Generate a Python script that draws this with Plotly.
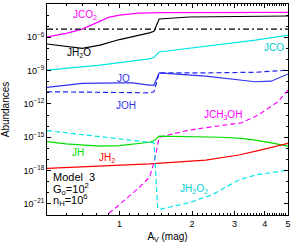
import plotly.graph_objects as go
import numpy as np

# ---- data (x = A_V in mag, y = log10 abundance) ----
x_jco2 = [0.5, 0.6, 0.7, 0.8, 0.9, 1.0, 1.2, 1.5, 5.0]
y_jco2 = [-5.97, -5.65, -5.26, -4.7, -4.2, -4.0, -3.83, -3.78, -3.76]

x_ref = [0.5, 5.0]
y_ref = [-5.27, -5.27]

x_jh2o = [0.5, 0.6, 0.7, 0.83, 1.0, 1.33, 1.39, 1.46, 1.94, 5.0]
y_jh2o = [-6.6, -6.82, -7.0, -6.7, -6.2, -5.6, -5.45, -4.35, -4.17, -4.08]

x_jco = [0.5, 0.83, 1.33, 1.39, 1.46, 2.28, 3.66, 5.0]
y_jco = [-8.95, -8.5, -7.95, -7.8, -7.32, -6.8, -6.25, -5.8]

x_jo = [0.5, 0.7, 1.0, 1.13, 1.33, 1.39, 1.46, 2.28, 3.66, 4.26, 5.0]
y_jo = [-10.5, -10.15, -10.1, -10.1, -10.3, -10.3, -9.2, -9.5, -10.0, -9.95, -9.3]

x_joh = [0.5, 1.0, 1.33, 1.39, 1.46, 2.28, 3.66, 5.0]
y_joh = [-10.9, -10.95, -11.0, -10.9, -9.2, -9.2, -9.15, -8.95]

x_jch3oh = [0.85, 0.97, 1.21, 1.33, 1.39, 1.46, 1.94, 3.2, 3.76, 4.55, 5.0]
y_jch3oh = [-22.3, -21.3, -19.5, -18.6, -17.3, -15.0, -14.35, -13.7, -13.0, -11.8, -10.75]

x_jh = [0.5, 0.6, 0.83, 1.0, 1.33, 1.39, 1.46, 2.0, 2.65, 3.2, 3.66, 4.26, 5.0]
y_jh = [-15.4, -15.6, -15.8, -15.75, -15.45, -15.3, -14.9, -14.95, -15.0, -15.1, -15.25, -15.5, -15.8]

x_jh2 = [0.5, 1.0, 1.33, 2.28, 3.12, 3.76, 5.0]
y_jh2 = [-17.8, -17.55, -17.4, -17.05, -16.6, -16.2, -15.55]

x_jh2o2 = [0.5, 0.83, 1.33, 1.39, 1.44, 1.46, 1.94, 2.41, 3.12, 3.66, 5.0]
y_jh2o2 = [-14.4, -14.95, -15.4, -15.5, -21.4, -21.5, -20.9, -20.2, -18.85, -18.4, -17.95]

y_tick_vals = [1e-21, 1e-18, 1e-15, 1e-12, 1e-9, 1e-6, 1e-3]
y_tick_text = ["10<sup>−21</sup>", "10<sup>−18</sup>", "10<sup>−15</sup>",
               "10<sup>−12</sup>", "10<sup>−9</sup>", "10<sup>−6</sup>", "0.001"]
x_tick_vals = [1, 2, 3, 4, 5]
x_tick_text = ["1", "2", "3", "4", "5"]

FONT = "Liberation Sans"
DASH = "5px,3px"

def pw(v):
    return [10 ** t for t in v]

fig = go.Figure()
series = [
    (x_jco2, y_jco2, "#ff00ff", "solid"),
    (x_ref, y_ref, "#000000", "6px,3px,2px,3px"),
    (x_jh2o, y_jh2o, "#000000", "solid"),
    (x_jco, y_jco, "#00e5e5", "solid"),
    (x_jo, y_jo, "#3333ee", "solid"),
    (x_joh, y_joh, "#2222ee", DASH),
    (x_jch3oh, y_jch3oh, "#ff00ff", DASH),
    (x_jh, y_jh, "#00dd00", "solid"),
    (x_jh2, y_jh2, "#ff0000", "solid"),
    (x_jh2o2, y_jh2o2, "#00e5e5", DASH),
]
for xs, ys, c, d in series:
    fig.add_trace(go.Scatter(x=xs, y=pw(ys), mode="lines",
                             line=dict(color=c, width=1.2, dash=d),
                             showlegend=False, hoverinfo="skip"))

labels = [
    ("JCO<sub>2</sub>", 0.72, -3.95, "#ff00ff"),
    ("JH<sub>2</sub>O", 0.68, -7.45, "#000000"),
    ("JCO", 4.38, -6.96, "#00d0d0"),
    ("JO", 1.04, -9.67, "#3333ee"),
    ("JOH", 1.06, -12.1, "#3333ee"),
    ("JCH<sub>3</sub>OH", 2.68, -12.95, "#ff00ff"),
    ("JH", 0.672, -16.33, "#00dd00"),
    ("JH<sub>2</sub>", 0.89, -16.85, "#ff0000"),
    ("JH<sub>2</sub>O<sub>2</sub>", 2.03, -19.65, "#00d0d0"),
]
for t, xv, yv, c in labels:
    fig.add_annotation(x=np.log10(xv), y=yv, text=t, showarrow=False,
                       font=dict(family=FONT, size=10, color=c))

model_lines = [("Model  3", -18.6), ("G<sub>o</sub>=10<sup>2</sup>", -19.65),
               ("n<sub>H</sub>=10<sup>6</sup>", -20.65)]
for t, yv in model_lines:
    fig.add_annotation(x=np.log10(0.52), y=yv, text=t, showarrow=False,
                       xanchor="left", font=dict(family=FONT, size=11, color="black"))

minor_x = [round(v, 1) for v in np.arange(0.5, 5.01, 0.1) if abs(v - round(v)) > 1e-6]
minor_y = [10.0 ** k for k in range(-22, -2)]

axis_common = dict(showline=True, linecolor="black", linewidth=1, mirror="allticks",
                   ticks="inside", ticklen=4, tickcolor="black", showgrid=False,
                   zeroline=False, automargin=False,
                   tickfont=dict(family=FONT, size=9, color="black"))

fig.update_xaxes(type="log", range=[np.log10(0.5), np.log10(5.0)],
                 tickmode="array", tickvals=x_tick_vals, ticktext=x_tick_text,
                 minor=dict(tickmode="array", tickvals=minor_x, ticks="inside",
                            ticklen=2, tickcolor="black"),
                 title=dict(text="A<sub>V</sub> (mag)",
                            font=dict(family=FONT, size=10, color="black")),
                 **axis_common)
fig.update_yaxes(type="log", range=[-22, -3],
                 tickmode="array", tickvals=y_tick_vals, ticktext=y_tick_text,
                 minor=dict(tickmode="array", tickvals=minor_y, ticks="inside",
                            ticklen=2, tickcolor="black"),
                 title=dict(text="Abundances",
                            font=dict(family=FONT, size=10, color="black")),
                 **axis_common)

fig.update_layout(width=293, height=243, margin=dict(l=47, r=5, t=4, b=28),
                  paper_bgcolor="white", plot_bgcolor="white",
                  font=dict(family=FONT, size=10, color="black"))

fig.write_html("out.html", config={"displayModeBar": False},
               post_script="document.body.style.margin='0';document.body.style.overflow='hidden';")
